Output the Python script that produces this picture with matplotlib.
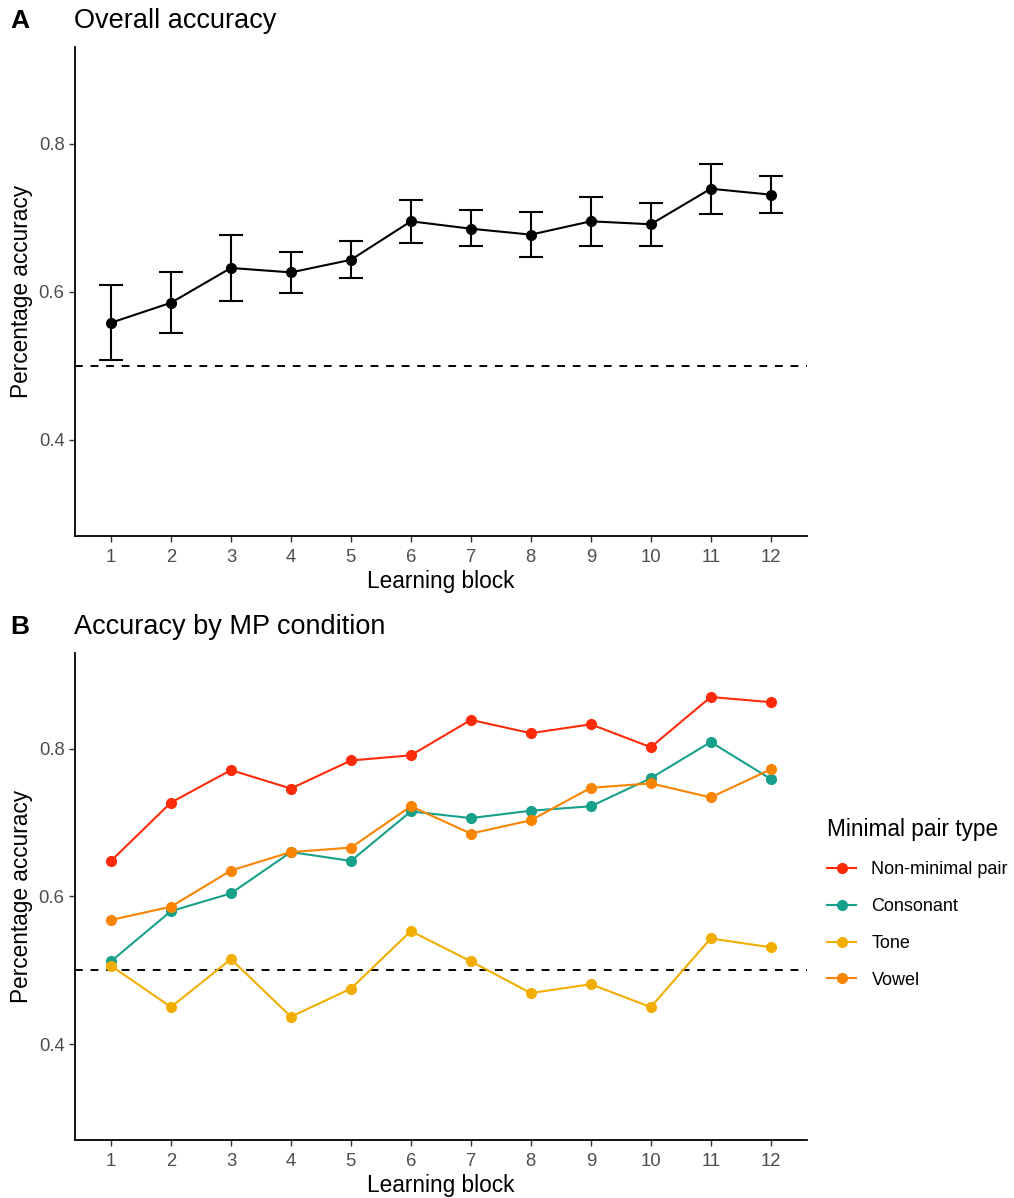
import numpy as np
import matplotlib
matplotlib.use('Agg')
import matplotlib.pyplot as plt

plt.rcParams['font.family'] = ['Liberation Sans', 'DejaVu Sans']

blocks = np.arange(1, 13)

# panel A: overall accuracy with error bars
overall = [0.558, 0.585, 0.632, 0.626, 0.643, 0.695, 0.685, 0.677, 0.695, 0.691, 0.739, 0.731]
overall_hi = [0.609, 0.627, 0.676, 0.654, 0.669, 0.724, 0.710, 0.707, 0.728, 0.720, 0.772, 0.756]
overall_lo = [0.508, 0.544, 0.588, 0.598, 0.618, 0.666, 0.661, 0.647, 0.662, 0.662, 0.705, 0.706]

# panel B: accuracy by minimal pair type
mp_types = ['Non-minimal pair', 'Consonant', 'Tone', 'Vowel']
non_minimal = [0.648, 0.727, 0.771, 0.746, 0.784, 0.791, 0.839, 0.821, 0.833, 0.802, 0.870, 0.863]
consonant = [0.512, 0.580, 0.604, 0.660, 0.648, 0.715, 0.706, 0.716, 0.722, 0.760, 0.809, 0.759]
tone = [0.506, 0.450, 0.515, 0.437, 0.475, 0.553, 0.512, 0.469, 0.481, 0.450, 0.543, 0.531]
vowel = [0.568, 0.586, 0.635, 0.660, 0.666, 0.722, 0.685, 0.703, 0.747, 0.753, 0.734, 0.772]
mp_colors = ['#FF2A0A', '#17A08A', '#F2AD00', '#F98400']

chance = 0.5
yticks = [0.4, 0.6, 0.8]

W, H = 1014, 1198
fig = plt.figure(figsize=(W / 100, H / 100), dpi=100)

def px_axes(left, top, right, bottom):
    return fig.add_axes([left / W, 1 - bottom / H, (right - left) / W, (bottom - top) / H])

ax_a = px_axes(75, 47.3, 806.7, 536)
ax_b = px_axes(75, 652.7, 806.7, 1140)

def style(ax):
    ax.set_xlim(0.4, 12.6)
    ax.set_ylim(0.27, 0.93)
    ax.set_xticks(blocks)
    ax.set_yticks(yticks)
    ax.set_yticklabels(['%.1f' % v for v in yticks])
    for s in ['top', 'right']:
        ax.spines[s].set_visible(False)
    for s in ['left', 'bottom']:
        ax.spines[s].set_linewidth(1.3)
        ax.spines[s].set_color('black')
    ax.tick_params(length=4, width=1.0, color='#333333', labelsize=13.3,
                   labelcolor='#4D4D4D', pad=3.5)
    ax.tick_params(axis='x', pad=5)
    ax.set_xlabel('Learning block', fontsize=16.3, labelpad=3)
    ax.set_ylabel('Percentage accuracy', fontsize=16.3, labelpad=4)
    ax.axhline(chance, color='black', linestyle=(0, (4, 4)), linewidth=1.4, zorder=1)

# panel A
ov = np.array(overall)
yerr = [ov - np.array(overall_lo), np.array(overall_hi) - ov]
ax_a.errorbar(blocks, ov, yerr=yerr, color='black', linewidth=1.5, elinewidth=1.5,
              capsize=8.5, capthick=1.5, marker='o', markersize=7, zorder=3)
style(ax_a)

# panel B
for vals, name, col in zip([non_minimal, consonant, tone, vowel], mp_types, mp_colors):
    ax_b.plot(blocks, vals, color=col, linewidth=1.5, marker='o', markersize=7,
              label=name, zorder=3)
style(ax_b)

leg = ax_b.legend(loc='upper left', bbox_to_anchor=(811 / W, 1 - 802 / H),
                  bbox_transform=fig.transFigure, frameon=False, title='Minimal pair type',
                  fontsize=13, title_fontsize=16.3, alignment='left',
                  handlelength=1.6, handletextpad=0.85, labelspacing=1.1)

# panel titles and tags
fig.text(10 / W, 1 - 21 / H, 'A', fontsize=19, fontweight='bold', va='center')
fig.text(74 / W, 1 - 21 / H, 'Overall accuracy', fontsize=19.5, va='center')
fig.text(10 / W, 1 - 627 / H, 'B', fontsize=19, fontweight='bold', va='center')
fig.text(74 / W, 1 - 627 / H, 'Accuracy by MP condition', fontsize=19.5, va='center')

plt.savefig('out.png', dpi=100)
